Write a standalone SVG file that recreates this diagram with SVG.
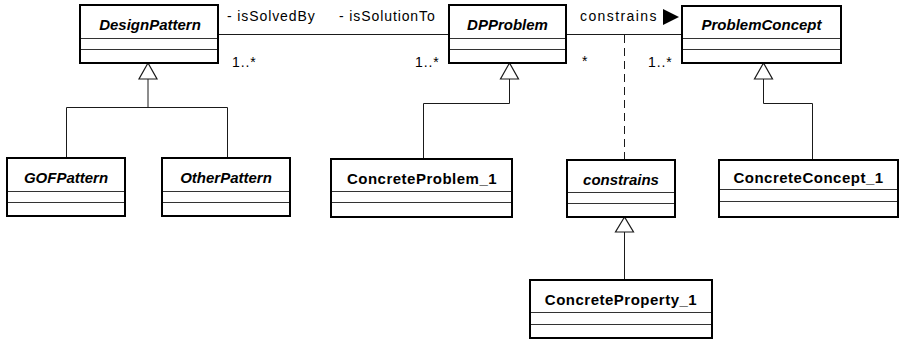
<svg xmlns="http://www.w3.org/2000/svg" width="903" height="341" viewBox="0 0 903 341">
  <style>
    .box { fill: #ffffff; stroke: #000000; stroke-width: 2; }
    .sep { stroke: #333333; stroke-width: 1; }
    .name { font-family: "Liberation Sans", Arial, sans-serif; font-size: 15px; font-weight: bold; text-anchor: middle; fill: #000000; }
    .abstract { font-style: italic; }
    .concrete { letter-spacing: 0.5px; }
    .label { font-family: "Liberation Sans", Arial, sans-serif; font-size: 14px; fill: #000000; letter-spacing: 0.9px; }
    .conn { fill: none; stroke: #1a1a1a; stroke-width: 1; }
    .gen { fill: #ffffff; stroke: #1a1a1a; stroke-width: 1.2; }
  </style>
  <rect width="903" height="341" fill="#ffffff"/>

  <!-- connectors -->
  <g id="connectors">
    <!-- association DesignPattern - DPProblem -->
    <line class="conn" x1="218" y1="34.5" x2="449" y2="34.5"/>
    <!-- association DPProblem - ProblemConcept -->
    <line class="conn" x1="566" y1="34.5" x2="682" y2="34.5"/>
    <!-- association class link -->
    <line class="conn" x1="624.5" y1="35" x2="624.5" y2="160" stroke-dasharray="8,5"/>
    <!-- generalization to DesignPattern -->
    <polyline class="conn" points="66.5,158 66.5,107.5 227.5,107.5 227.5,158"/>
    <line class="conn" x1="148" y1="79" x2="148" y2="107.5" stroke-width="2.5"/>
    <polygon class="gen" points="148,63 139,79 157,79"/>
    <!-- generalization to DPProblem -->
    <polyline class="conn" points="423.5,159 423.5,103.5 509.5,103.5 509.5,79"/>
    <polygon class="gen" points="509.5,63 500.5,79 518.5,79"/>
    <!-- generalization to ProblemConcept -->
    <polyline class="conn" points="812.5,160 812.5,103.5 763.5,103.5 763.5,79"/>
    <polygon class="gen" points="763.5,63 754.5,79 772.5,79"/>
    <!-- generalization to constrains -->
    <line class="conn" x1="624.5" y1="232" x2="624.5" y2="280"/>
    <polygon class="gen" points="624.5,217 615.5,232 633.5,232"/>
    <!-- association end labels -->
    <text class="label" x="227" y="21">- isSolvedBy</text>
    <text class="label" x="339" y="21">- isSolutionTo</text>
    <text class="label" x="580" y="21" style="letter-spacing:1.4px">constrains</text>
    <polygon points="663,9 679,17 663,25" fill="#000000"/>
    <text class="label" x="232" y="67">1..*</text>
    <text class="label" x="415" y="67">1..*</text>
    <text class="label" x="582" y="66">*</text>
    <text class="label" x="648" y="67">1..*</text>
  </g>

  <g id="DesignPattern">
    <rect class="box" x="80" y="5" width="138" height="58"/>
    <line class="sep" x1="81" y1="38.5" x2="217" y2="38.5"/>
    <line class="sep" x1="81" y1="49.5" x2="217" y2="49.5"/>
    <text class="name abstract" x="150" y="30">DesignPattern</text>
  </g>

  <g id="DPProblem">
    <rect class="box" x="449" y="5" width="117" height="58"/>
    <line class="sep" x1="450" y1="38.5" x2="565" y2="38.5"/>
    <line class="sep" x1="450" y1="49.5" x2="565" y2="49.5"/>
    <text class="name abstract" x="507.5" y="30">DPProblem</text>
  </g>

  <g id="ProblemConcept">
    <rect class="box" x="682" y="6" width="159" height="57"/>
    <line class="sep" x1="683" y1="38.5" x2="840" y2="38.5"/>
    <line class="sep" x1="683" y1="49.5" x2="840" y2="49.5"/>
    <text class="name abstract" x="761.5" y="30">ProblemConcept</text>
  </g>

  <g id="GOFPattern">
    <rect class="box" x="7" y="158" width="118" height="58"/>
    <line class="sep" x1="8" y1="191.5" x2="124" y2="191.5"/>
    <line class="sep" x1="8" y1="202.5" x2="124" y2="202.5"/>
    <text class="name abstract" x="66" y="183">GOFPattern</text>
  </g>

  <g id="OtherPattern">
    <rect class="box" x="162" y="158" width="128" height="58"/>
    <line class="sep" x1="163" y1="191.5" x2="289" y2="191.5"/>
    <line class="sep" x1="163" y1="202.5" x2="289" y2="202.5"/>
    <text class="name abstract" x="226" y="183">OtherPattern</text>
  </g>

  <g id="ConcreteProblem_1">
    <rect class="box" x="331" y="159" width="181" height="58"/>
    <line class="sep" x1="332" y1="191.5" x2="511" y2="191.5"/>
    <line class="sep" x1="332" y1="202.5" x2="511" y2="202.5"/>
    <text class="name concrete" x="422" y="184">ConcreteProblem_1</text>
  </g>

  <g id="constrains">
    <rect class="box" x="567" y="160" width="108" height="57"/>
    <line class="sep" x1="568" y1="192.5" x2="674" y2="192.5"/>
    <line class="sep" x1="568" y1="203.5" x2="674" y2="203.5"/>
    <text class="name abstract" x="621" y="185">constrains</text>
  </g>

  <g id="ConcreteConcept_1">
    <rect class="box" x="719" y="160" width="179" height="57"/>
    <line class="sep" x1="720" y1="189.5" x2="897" y2="189.5"/>
    <line class="sep" x1="720" y1="201.5" x2="897" y2="201.5"/>
    <text class="name concrete" x="808.5" y="183">ConcreteConcept_1</text>
  </g>

  <g id="ConcreteProperty_1">
    <rect class="box" x="530" y="280" width="182" height="58"/>
    <line class="sep" x1="531" y1="312.5" x2="711" y2="312.5"/>
    <line class="sep" x1="531" y1="324.5" x2="711" y2="324.5"/>
    <text class="name concrete" x="621" y="305">ConcreteProperty_1</text>
  </g>
</svg>
